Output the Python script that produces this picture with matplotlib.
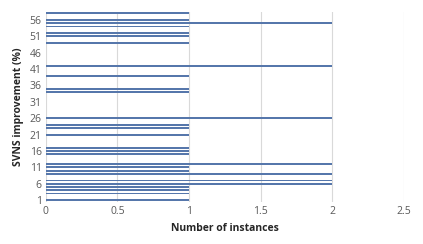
import numpy as np
import matplotlib
matplotlib.use("Agg")
import matplotlib.pyplot as plt

# SVNS improvement (%) categories and number of instances per category
categories = list(range(1, 59))
improvement = [1, 3, 4, 5, 6, 7, 9, 10, 11, 12, 15, 16, 17, 21, 23, 24, 26,
               34, 35, 39, 42, 49, 51, 52, 54, 55, 56, 58]
instances = [1, 1, 1, 1, 2, 2, 2, 1, 1, 2, 1, 1, 1, 1, 1, 1, 2,
             1, 1, 1, 2, 1, 1, 1, 1, 2, 1, 1]
y_ticks = list(range(1, 59, 5))
x_ticks = [0, 0.5, 1, 1.5, 2, 2.5]

counts = dict(zip(improvement, instances))
values = [counts.get(c, 0) for c in categories]

plt.rcParams['font.family'] = ['Open Sans', 'DejaVu Sans']

fig = plt.figure(figsize=(4.23, 2.44), dpi=100)
ax = fig.add_axes([0.108, 0.173, 0.847, 0.779])

ax.barh(categories, values, height=0.55, color='#5677ab', zorder=3)

ax.set_xlim(0, 2.5)
ax.set_ylim(0.5, 58.5)
ax.set_xticks(x_ticks)
ax.set_xticklabels([f"{t:g}" for t in x_ticks])
ax.set_yticks(y_ticks)
ax.tick_params(axis='both', length=0, labelsize=7.5, colors='#595959', pad=3)
ax.xaxis.grid(True, color='#d9d9d9', linewidth=0.8, zorder=0)
for s in ax.spines.values():
    s.set_visible(False)

ax.set_xlabel("Number of instances", fontsize=7.5, fontweight='bold', color='#262626', labelpad=4)
ax.set_ylabel("SVNS improvement (%)", fontsize=7.5, fontweight='bold', color='#262626', labelpad=4)

fig.savefig("out.png", dpi=100)
